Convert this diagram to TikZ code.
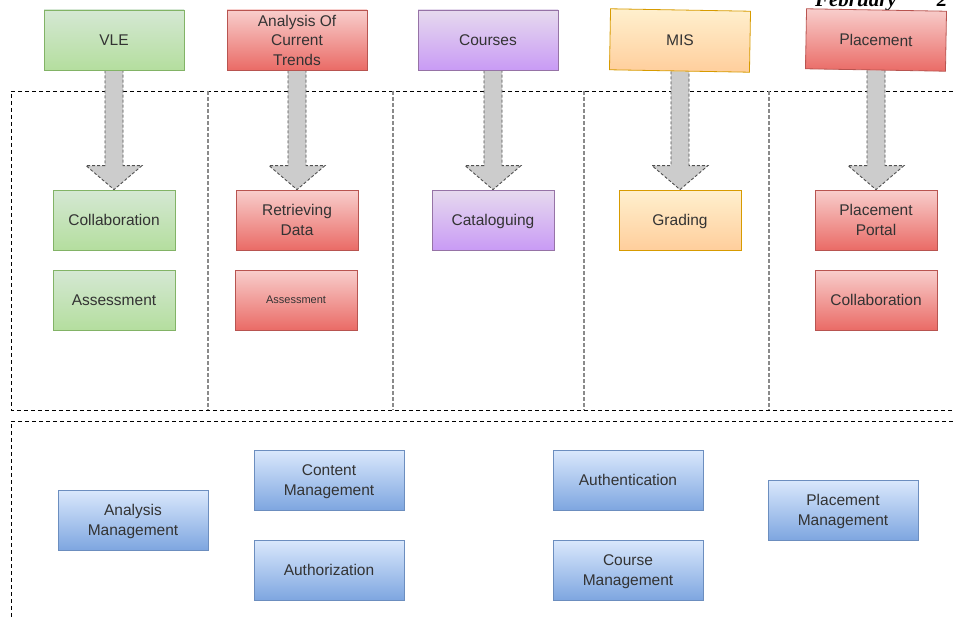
\documentclass[tikz,border=0pt]{standalone}
\usepackage{fontspec}
\setmainfont{Liberation Sans}
\newfontfamily\datefont{Liberation Serif}
\usetikzlibrary{calc,backgrounds}

\definecolor{txt}{HTML}{333333}
\definecolor{greenT}{HTML}{D5E8D4}
\definecolor{greenB}{HTML}{B4DE9E}
\definecolor{greenS}{HTML}{82B366}
\definecolor{redT}{HTML}{F8CECC}
\definecolor{redB}{HTML}{EA6B66}
\definecolor{redS}{HTML}{B85450}
\definecolor{purpleT}{HTML}{E6DAEE}
\definecolor{purpleB}{HTML}{C99BF5}
\definecolor{purpleS}{HTML}{9673A6}
\definecolor{orangeT}{HTML}{FFF0CE}
\definecolor{orangeB}{HTML}{FFCE9C}
\definecolor{orangeS}{HTML}{D79B00}
\definecolor{blueT}{HTML}{DAE8FC}
\definecolor{blueB}{HTML}{7EA6E0}
\definecolor{blueS}{HTML}{6C8EBF}
\definecolor{arrfill}{HTML}{CCCCCC}
\definecolor{arrline}{HTML}{505050}
\definecolor{divline}{HTML}{8A8A8A}

\tikzset{
  box/.style={draw, line width=0.8pt, align=center, text=txt, inner sep=2pt,
    text depth=0pt, font=\fontsize{15.5}{19.5}\selectfont},
  topbox/.style={box, minimum width=140pt, minimum height=60pt},
  subbox/.style={box, minimum width=122pt, minimum height=60pt},
  svcbox/.style={box, minimum width=150pt, minimum height=60pt,
    top color=blueT, bottom color=blueB, draw=blueS},
  fillgreen/.style={top color=greenT, bottom color=greenB, draw=greenS},
  fillred/.style={top color=redT, bottom color=redB, draw=redS},
  fillpurple/.style={top color=purpleT, bottom color=purpleB, draw=purpleS},
  fillorange/.style={top color=orangeT, bottom color=orangeB, draw=orangeS},
  blockarr/.style={fill=arrfill, draw=arrline, dash pattern=on 3pt off 2pt,
    line width=0.9pt},
  zone/.style={draw=black, dash pattern=on 4pt off 3pt, line width=0.8pt},
  divider/.style={draw=divline, dash pattern=on 4pt off 2pt, line width=1.4pt},
}

% block arrow from the bottom of a layer box down to the top of its first module
\newcommand\blockarrow[2]{%
  \path[blockarr] let \p1=(#1.south), \p2=(#2.north) in
    (\x2-9pt,\y1) -- (\x2-9pt,\y2+24pt) -- (\x2-28pt,\y2+24pt) -- (\x2,\y2)
    -- (\x2+28pt,\y2+24pt) -- (\x2+9pt,\y2+24pt) -- (\x2+9pt,\y1);%
}

\begin{document}
\begin{tikzpicture}[x=1pt,y=-1pt]
\useasboundingbox (0,0) rectangle (953,618);

% date line of the page header
\node[anchor=base east, inner sep=0pt, text=black,
  font=\datefont\bfseries\itshape\fontsize{21}{21}\selectfont] (date)
  at (897,7) {February\rlap{\hspace{40pt}2}};

% layer boxes
\node[topbox, fillgreen] (vle) at (114,40) {VLE};
\node[topbox, fillred] (trends) at (297,40) {Analysis Of\\Current\\Trends};
\node[topbox, fillpurple] (courses) at (488,40) {Courses};
\node[topbox, fillorange, minimum height=61pt, rotate=-1] (mis) at (680,40.5) {MIS};
\node[topbox, fillred, rotate=-1] (placement) at (876,40) {Placement};

% modules of each layer
\node[subbox, fillgreen] (collab1) at (114,220) {Collaboration};
\node[subbox, fillgreen] (assess1) at (114,300) {Assessment};
\node[subbox, fillred] (retrieve) at (297,220) {Retrieving\\Data};
\node[subbox, fillred, font=\fontsize{11}{13}\selectfont] (assess2) at (296,300) {Assessment};
\node[subbox, fillpurple] (catalog) at (493,220) {Cataloguing};
\node[subbox, fillorange] (grading) at (680,220) {Grading};
\node[subbox, fillred] (portal) at (876,220) {Placement\\Portal};
\node[subbox, fillred] (collab2) at (876,300) {Collaboration};

% common services
\node[svcbox] (analysis) at (133,520) {Analysis\\Management};
\node[svcbox] (content) at (329,480) {Content\\Management};
\node[svcbox] (authz) at (329,570) {Authorization};
\node[svcbox] (authn) at (628,480) {Authentication};
\node[svcbox] (coursemgmt) at (628,570) {Course\\Management};
\node[svcbox] (placemgmt) at (843,510) {Placement\\Management};

\begin{pgfonlayer}{background}
  % dashed zones
  \coordinate (zoneTL) at (11,91);
  \coordinate (zoneBL) at (11,410);
  \coordinate (svcTL) at (11,421);
  \draw[zone] (zoneTL -| 960,0) -- (zoneTL) -- (zoneBL) -- (zoneBL -| 960,0);
  \draw[zone] (svcTL -| 960,0) -- (svcTL) -- (11,625);
  \foreach \xx in {208,393,584,769}
    \draw[divider] (\xx,91) -- (\xx,410);
  % block arrows
  \blockarrow{vle}{collab1}
  \blockarrow{trends}{retrieve}
  \blockarrow{courses}{catalog}
  \blockarrow{mis}{grading}
  \blockarrow{placement}{portal}
\end{pgfonlayer}
\end{tikzpicture}
\end{document}
